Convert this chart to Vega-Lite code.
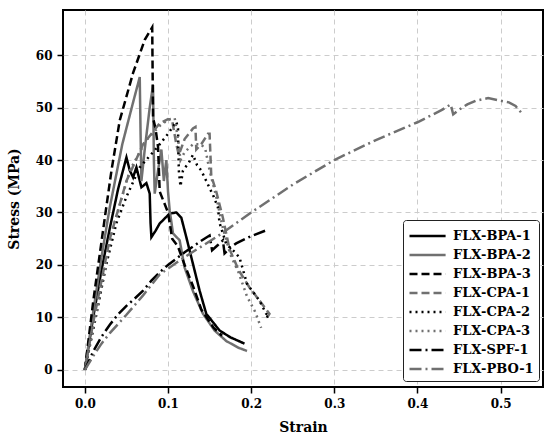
{
  "$schema": "https://vega.github.io/schema/vega-lite/v6.json",
  "width": 480,
  "height": 377,
  "autosize": "none",
  "padding": {"left": 63, "top": 10, "right": 7, "bottom": 56},
  "config": {
    "view": {"stroke": "black", "strokeWidth": 2},
    "font": "DejaVu Serif",
    "axis": {
      "labelFont": "DejaVu Serif", "labelFontWeight": "bold", "labelFontSize": 12, "labelColor": "black",
      "titleFont": "DejaVu Serif", "titleFontWeight": "bold", "titleFontSize": 14, "titleColor": "black",
      "tickColor": "black", "tickWidth": 1.5, "tickSize": 6, "domain": false,
      "gridColor": "#cccccc", "gridDash": [5, 4], "gridWidth": 1
    }
  },
  "data": {
    "values": [
      {"s": "FLX-BPA-1", "i": 0, "x": 0, "y": 0},
      {"s": "FLX-BPA-1", "i": 1, "x": 0.01, "y": 10},
      {"s": "FLX-BPA-1", "i": 2, "x": 0.02, "y": 19},
      {"s": "FLX-BPA-1", "i": 3, "x": 0.03, "y": 27},
      {"s": "FLX-BPA-1", "i": 4, "x": 0.04, "y": 34.5},
      {"s": "FLX-BPA-1", "i": 5, "x": 0.05, "y": 40.5},
      {"s": "FLX-BPA-1", "i": 6, "x": 0.054, "y": 38},
      {"s": "FLX-BPA-1", "i": 7, "x": 0.058, "y": 36.7},
      {"s": "FLX-BPA-1", "i": 8, "x": 0.062, "y": 38.6},
      {"s": "FLX-BPA-1", "i": 9, "x": 0.068, "y": 34.8},
      {"s": "FLX-BPA-1", "i": 10, "x": 0.074, "y": 35.6},
      {"s": "FLX-BPA-1", "i": 11, "x": 0.078, "y": 33.6},
      {"s": "FLX-BPA-1", "i": 12, "x": 0.079, "y": 28},
      {"s": "FLX-BPA-1", "i": 13, "x": 0.08, "y": 25.3},
      {"s": "FLX-BPA-1", "i": 14, "x": 0.085, "y": 26.5},
      {"s": "FLX-BPA-1", "i": 15, "x": 0.09, "y": 27.9},
      {"s": "FLX-BPA-1", "i": 16, "x": 0.102, "y": 29.8},
      {"s": "FLX-BPA-1", "i": 17, "x": 0.11, "y": 30},
      {"s": "FLX-BPA-1", "i": 18, "x": 0.116, "y": 29},
      {"s": "FLX-BPA-1", "i": 19, "x": 0.122, "y": 25.3},
      {"s": "FLX-BPA-1", "i": 20, "x": 0.13, "y": 20.2},
      {"s": "FLX-BPA-1", "i": 21, "x": 0.138, "y": 15.1},
      {"s": "FLX-BPA-1", "i": 22, "x": 0.146, "y": 10.7},
      {"s": "FLX-BPA-1", "i": 23, "x": 0.162, "y": 7.5},
      {"s": "FLX-BPA-1", "i": 24, "x": 0.175, "y": 6.2},
      {"s": "FLX-BPA-1", "i": 25, "x": 0.192, "y": 5},

      {"s": "FLX-BPA-2", "i": 0, "x": 0, "y": 0},
      {"s": "FLX-BPA-2", "i": 1, "x": 0.01, "y": 11},
      {"s": "FLX-BPA-2", "i": 2, "x": 0.02, "y": 21.5},
      {"s": "FLX-BPA-2", "i": 3, "x": 0.03, "y": 31},
      {"s": "FLX-BPA-2", "i": 4, "x": 0.045, "y": 43},
      {"s": "FLX-BPA-2", "i": 5, "x": 0.058, "y": 51},
      {"s": "FLX-BPA-2", "i": 6, "x": 0.066, "y": 55.8},
      {"s": "FLX-BPA-2", "i": 7, "x": 0.067, "y": 45},
      {"s": "FLX-BPA-2", "i": 8, "x": 0.068, "y": 36},
      {"s": "FLX-BPA-2", "i": 9, "x": 0.072, "y": 42},
      {"s": "FLX-BPA-2", "i": 10, "x": 0.078, "y": 50},
      {"s": "FLX-BPA-2", "i": 11, "x": 0.082, "y": 54.3},
      {"s": "FLX-BPA-2", "i": 12, "x": 0.083, "y": 40},
      {"s": "FLX-BPA-2", "i": 13, "x": 0.084, "y": 33.6},
      {"s": "FLX-BPA-2", "i": 14, "x": 0.088, "y": 38},
      {"s": "FLX-BPA-2", "i": 15, "x": 0.092, "y": 42},
      {"s": "FLX-BPA-2", "i": 16, "x": 0.095, "y": 36},
      {"s": "FLX-BPA-2", "i": 17, "x": 0.098, "y": 40},
      {"s": "FLX-BPA-2", "i": 18, "x": 0.1, "y": 34},
      {"s": "FLX-BPA-2", "i": 19, "x": 0.102, "y": 30.4},
      {"s": "FLX-BPA-2", "i": 20, "x": 0.106, "y": 26},
      {"s": "FLX-BPA-2", "i": 21, "x": 0.114, "y": 24.7},
      {"s": "FLX-BPA-2", "i": 22, "x": 0.12, "y": 19.5},
      {"s": "FLX-BPA-2", "i": 23, "x": 0.13, "y": 15},
      {"s": "FLX-BPA-2", "i": 24, "x": 0.142, "y": 10.7},
      {"s": "FLX-BPA-2", "i": 25, "x": 0.156, "y": 7.5},
      {"s": "FLX-BPA-2", "i": 26, "x": 0.17, "y": 5.5},
      {"s": "FLX-BPA-2", "i": 27, "x": 0.185, "y": 4.2},
      {"s": "FLX-BPA-2", "i": 28, "x": 0.195, "y": 3.6},

      {"s": "FLX-BPA-3", "i": 0, "x": 0, "y": 0},
      {"s": "FLX-BPA-3", "i": 1, "x": 0.01, "y": 13},
      {"s": "FLX-BPA-3", "i": 2, "x": 0.024, "y": 29},
      {"s": "FLX-BPA-3", "i": 3, "x": 0.032, "y": 38},
      {"s": "FLX-BPA-3", "i": 4, "x": 0.042, "y": 47.6},
      {"s": "FLX-BPA-3", "i": 5, "x": 0.058, "y": 56.6},
      {"s": "FLX-BPA-3", "i": 6, "x": 0.072, "y": 62.9},
      {"s": "FLX-BPA-3", "i": 7, "x": 0.081, "y": 65.3},
      {"s": "FLX-BPA-3", "i": 8, "x": 0.082, "y": 48},
      {"s": "FLX-BPA-3", "i": 9, "x": 0.085, "y": 46},
      {"s": "FLX-BPA-3", "i": 10, "x": 0.088, "y": 42.5},
      {"s": "FLX-BPA-3", "i": 11, "x": 0.09, "y": 34},
      {"s": "FLX-BPA-3", "i": 12, "x": 0.1, "y": 30},
      {"s": "FLX-BPA-3", "i": 13, "x": 0.105, "y": 25},
      {"s": "FLX-BPA-3", "i": 14, "x": 0.112, "y": 23.5},
      {"s": "FLX-BPA-3", "i": 15, "x": 0.12, "y": 20},
      {"s": "FLX-BPA-3", "i": 16, "x": 0.13, "y": 16},
      {"s": "FLX-BPA-3", "i": 17, "x": 0.14, "y": 11.5},
      {"s": "FLX-BPA-3", "i": 18, "x": 0.155, "y": 8},
      {"s": "FLX-BPA-3", "i": 19, "x": 0.165, "y": 6.5},

      {"s": "FLX-CPA-1", "i": 0, "x": 0, "y": 0},
      {"s": "FLX-CPA-1", "i": 1, "x": 0.01, "y": 9},
      {"s": "FLX-CPA-1", "i": 2, "x": 0.03, "y": 25},
      {"s": "FLX-CPA-1", "i": 3, "x": 0.05, "y": 36},
      {"s": "FLX-CPA-1", "i": 4, "x": 0.07, "y": 43},
      {"s": "FLX-CPA-1", "i": 5, "x": 0.09, "y": 47},
      {"s": "FLX-CPA-1", "i": 6, "x": 0.1, "y": 47.8},
      {"s": "FLX-CPA-1", "i": 7, "x": 0.105, "y": 47.5},
      {"s": "FLX-CPA-1", "i": 8, "x": 0.11, "y": 43},
      {"s": "FLX-CPA-1", "i": 9, "x": 0.113, "y": 41},
      {"s": "FLX-CPA-1", "i": 10, "x": 0.12, "y": 44},
      {"s": "FLX-CPA-1", "i": 11, "x": 0.13, "y": 46},
      {"s": "FLX-CPA-1", "i": 12, "x": 0.133, "y": 46.3},
      {"s": "FLX-CPA-1", "i": 13, "x": 0.134, "y": 42},
      {"s": "FLX-CPA-1", "i": 14, "x": 0.14, "y": 43},
      {"s": "FLX-CPA-1", "i": 15, "x": 0.148, "y": 45},
      {"s": "FLX-CPA-1", "i": 16, "x": 0.15, "y": 45},
      {"s": "FLX-CPA-1", "i": 17, "x": 0.152, "y": 37},
      {"s": "FLX-CPA-1", "i": 18, "x": 0.158, "y": 34},
      {"s": "FLX-CPA-1", "i": 19, "x": 0.166, "y": 29},
      {"s": "FLX-CPA-1", "i": 20, "x": 0.174, "y": 23},
      {"s": "FLX-CPA-1", "i": 21, "x": 0.185, "y": 19},
      {"s": "FLX-CPA-1", "i": 22, "x": 0.198, "y": 15.7},
      {"s": "FLX-CPA-1", "i": 23, "x": 0.21, "y": 13.2},
      {"s": "FLX-CPA-1", "i": 24, "x": 0.222, "y": 10.7},
      {"s": "FLX-CPA-1", "i": 25, "x": 0.218, "y": 9.7},

      {"s": "FLX-CPA-2", "i": 0, "x": 0, "y": 0},
      {"s": "FLX-CPA-2", "i": 1, "x": 0.014, "y": 10.7},
      {"s": "FLX-CPA-2", "i": 2, "x": 0.026, "y": 20.3},
      {"s": "FLX-CPA-2", "i": 3, "x": 0.038, "y": 28},
      {"s": "FLX-CPA-2", "i": 4, "x": 0.05, "y": 33},
      {"s": "FLX-CPA-2", "i": 5, "x": 0.066, "y": 38.6},
      {"s": "FLX-CPA-2", "i": 6, "x": 0.087, "y": 42.4},
      {"s": "FLX-CPA-2", "i": 7, "x": 0.1, "y": 45},
      {"s": "FLX-CPA-2", "i": 8, "x": 0.11, "y": 47.3},
      {"s": "FLX-CPA-2", "i": 9, "x": 0.112, "y": 46},
      {"s": "FLX-CPA-2", "i": 10, "x": 0.113, "y": 38},
      {"s": "FLX-CPA-2", "i": 11, "x": 0.115, "y": 35},
      {"s": "FLX-CPA-2", "i": 12, "x": 0.118, "y": 38},
      {"s": "FLX-CPA-2", "i": 13, "x": 0.125, "y": 39.5},
      {"s": "FLX-CPA-2", "i": 14, "x": 0.13, "y": 41},
      {"s": "FLX-CPA-2", "i": 15, "x": 0.135, "y": 39},
      {"s": "FLX-CPA-2", "i": 16, "x": 0.14, "y": 38},
      {"s": "FLX-CPA-2", "i": 17, "x": 0.146, "y": 36},
      {"s": "FLX-CPA-2", "i": 18, "x": 0.155, "y": 33},
      {"s": "FLX-CPA-2", "i": 19, "x": 0.16, "y": 31},
      {"s": "FLX-CPA-2", "i": 20, "x": 0.162, "y": 28},
      {"s": "FLX-CPA-2", "i": 21, "x": 0.17, "y": 24},
      {"s": "FLX-CPA-2", "i": 22, "x": 0.18, "y": 22.5},
      {"s": "FLX-CPA-2", "i": 23, "x": 0.186, "y": 21.4},
      {"s": "FLX-CPA-2", "i": 24, "x": 0.195, "y": 16.4},
      {"s": "FLX-CPA-2", "i": 25, "x": 0.21, "y": 13.2},
      {"s": "FLX-CPA-2", "i": 26, "x": 0.218, "y": 10.7},
      {"s": "FLX-CPA-2", "i": 27, "x": 0.222, "y": 10.3},
      {"s": "FLX-CPA-2", "i": 28, "x": 0.215, "y": 9.8},

      {"s": "FLX-CPA-3", "i": 0, "x": 0, "y": 0},
      {"s": "FLX-CPA-3", "i": 1, "x": 0.01, "y": 8},
      {"s": "FLX-CPA-3", "i": 2, "x": 0.02, "y": 16},
      {"s": "FLX-CPA-3", "i": 3, "x": 0.032, "y": 26},
      {"s": "FLX-CPA-3", "i": 4, "x": 0.054, "y": 38},
      {"s": "FLX-CPA-3", "i": 5, "x": 0.074, "y": 43.8},
      {"s": "FLX-CPA-3", "i": 6, "x": 0.09, "y": 46.5},
      {"s": "FLX-CPA-3", "i": 7, "x": 0.1, "y": 47.7},
      {"s": "FLX-CPA-3", "i": 8, "x": 0.108, "y": 48},
      {"s": "FLX-CPA-3", "i": 9, "x": 0.112, "y": 44},
      {"s": "FLX-CPA-3", "i": 10, "x": 0.115, "y": 40},
      {"s": "FLX-CPA-3", "i": 11, "x": 0.12, "y": 41.5},
      {"s": "FLX-CPA-3", "i": 12, "x": 0.13, "y": 43},
      {"s": "FLX-CPA-3", "i": 13, "x": 0.14, "y": 43},
      {"s": "FLX-CPA-3", "i": 14, "x": 0.145, "y": 42},
      {"s": "FLX-CPA-3", "i": 15, "x": 0.15, "y": 38},
      {"s": "FLX-CPA-3", "i": 16, "x": 0.158, "y": 33},
      {"s": "FLX-CPA-3", "i": 17, "x": 0.166, "y": 27},
      {"s": "FLX-CPA-3", "i": 18, "x": 0.175, "y": 22},
      {"s": "FLX-CPA-3", "i": 19, "x": 0.185, "y": 18.5},
      {"s": "FLX-CPA-3", "i": 20, "x": 0.195, "y": 14},
      {"s": "FLX-CPA-3", "i": 21, "x": 0.205, "y": 11},
      {"s": "FLX-CPA-3", "i": 22, "x": 0.212, "y": 8},

      {"s": "FLX-SPF-1", "i": 0, "x": 0, "y": 0},
      {"s": "FLX-SPF-1", "i": 1, "x": 0.01, "y": 3.5},
      {"s": "FLX-SPF-1", "i": 2, "x": 0.02, "y": 6.3},
      {"s": "FLX-SPF-1", "i": 3, "x": 0.03, "y": 8.6},
      {"s": "FLX-SPF-1", "i": 4, "x": 0.04, "y": 10.6},
      {"s": "FLX-SPF-1", "i": 5, "x": 0.05, "y": 12.2},
      {"s": "FLX-SPF-1", "i": 6, "x": 0.06, "y": 13.6},
      {"s": "FLX-SPF-1", "i": 7, "x": 0.07, "y": 15.1},
      {"s": "FLX-SPF-1", "i": 8, "x": 0.08, "y": 17},
      {"s": "FLX-SPF-1", "i": 9, "x": 0.09, "y": 18.6},
      {"s": "FLX-SPF-1", "i": 10, "x": 0.1, "y": 20},
      {"s": "FLX-SPF-1", "i": 11, "x": 0.12, "y": 22.4},
      {"s": "FLX-SPF-1", "i": 12, "x": 0.14, "y": 24.6},
      {"s": "FLX-SPF-1", "i": 13, "x": 0.15, "y": 25.6},
      {"s": "FLX-SPF-1", "i": 14, "x": 0.153, "y": 22.8},
      {"s": "FLX-SPF-1", "i": 15, "x": 0.16, "y": 23.8},
      {"s": "FLX-SPF-1", "i": 16, "x": 0.166, "y": 24.7},
      {"s": "FLX-SPF-1", "i": 17, "x": 0.168, "y": 22.2},
      {"s": "FLX-SPF-1", "i": 18, "x": 0.175, "y": 23.3},
      {"s": "FLX-SPF-1", "i": 19, "x": 0.182, "y": 24.1},
      {"s": "FLX-SPF-1", "i": 20, "x": 0.2, "y": 25.5},
      {"s": "FLX-SPF-1", "i": 21, "x": 0.218, "y": 26.6},

      {"s": "FLX-PBO-1", "i": 0, "x": 0, "y": 0},
      {"s": "FLX-PBO-1", "i": 1, "x": 0.01, "y": 2.6},
      {"s": "FLX-PBO-1", "i": 2, "x": 0.02, "y": 5},
      {"s": "FLX-PBO-1", "i": 3, "x": 0.03, "y": 7},
      {"s": "FLX-PBO-1", "i": 4, "x": 0.05, "y": 10.5},
      {"s": "FLX-PBO-1", "i": 5, "x": 0.07, "y": 14.2},
      {"s": "FLX-PBO-1", "i": 6, "x": 0.09, "y": 18.2},
      {"s": "FLX-PBO-1", "i": 7, "x": 0.12, "y": 21.5},
      {"s": "FLX-PBO-1", "i": 8, "x": 0.16, "y": 25.5},
      {"s": "FLX-PBO-1", "i": 9, "x": 0.2, "y": 30},
      {"s": "FLX-PBO-1", "i": 10, "x": 0.25, "y": 35.3},
      {"s": "FLX-PBO-1", "i": 11, "x": 0.3, "y": 40},
      {"s": "FLX-PBO-1", "i": 12, "x": 0.35, "y": 43.8},
      {"s": "FLX-PBO-1", "i": 13, "x": 0.4, "y": 47.2},
      {"s": "FLX-PBO-1", "i": 14, "x": 0.43, "y": 49.6},
      {"s": "FLX-PBO-1", "i": 15, "x": 0.44, "y": 50.6},
      {"s": "FLX-PBO-1", "i": 16, "x": 0.443, "y": 48.7},
      {"s": "FLX-PBO-1", "i": 17, "x": 0.45, "y": 49.6},
      {"s": "FLX-PBO-1", "i": 18, "x": 0.46, "y": 50.6},
      {"s": "FLX-PBO-1", "i": 19, "x": 0.47, "y": 51.3},
      {"s": "FLX-PBO-1", "i": 20, "x": 0.485, "y": 51.8},
      {"s": "FLX-PBO-1", "i": 21, "x": 0.5, "y": 51.3},
      {"s": "FLX-PBO-1", "i": 22, "x": 0.51, "y": 51},
      {"s": "FLX-PBO-1", "i": 23, "x": 0.518, "y": 50.3},
      {"s": "FLX-PBO-1", "i": 24, "x": 0.525, "y": 49}
    ]
  },
  "mark": {"type": "line", "strokeWidth": 2.5, "clip": true},
  "encoding": {
    "x": {
      "field": "x", "type": "quantitative", "title": "Strain",
      "scale": {"domain": [-0.0263, 0.551], "nice": false, "zero": false},
      "axis": {"values": [0, 0.1, 0.2, 0.3, 0.4, 0.5], "format": ".1f", "labelPadding": 5, "titlePadding": 11}
    },
    "y": {
      "field": "y", "type": "quantitative", "title": "Stress (MPa)",
      "scale": {"domain": [-3.27, 68.6], "nice": false, "zero": false},
      "axis": {"values": [0, 10, 20, 30, 40, 50, 60], "labelPadding": 5, "titlePadding": 14}
    },
    "order": {"field": "i", "type": "quantitative"},
    "color": {
      "field": "s", "type": "nominal", "title": null,
      "scale": {
        "domain": ["FLX-BPA-1", "FLX-BPA-2", "FLX-BPA-3", "FLX-CPA-1", "FLX-CPA-2", "FLX-CPA-3", "FLX-SPF-1", "FLX-PBO-1"],
        "range": ["#000000", "#707070", "#000000", "#707070", "#000000", "#707070", "#000000", "#707070"]
      },
      "legend": {
        "orient": "none", "legendX": 340, "legendY": 210,
        "symbolType": "M-1,0H2.8", "symbolSize": 361, "symbolStrokeWidth": 2.5,
        "labelOffset": 23,
        "labelFont": "DejaVu Serif", "labelFontWeight": "bold", "labelFontSize": 13, "labelColor": "black",
        "rowPadding": 1, "padding": 5, "fillColor": "white", "strokeColor": "#222222", "cornerRadius": 3
      }
    },
    "strokeDash": {
      "field": "s", "type": "nominal", "title": null,
      "scale": {
        "domain": ["FLX-BPA-1", "FLX-BPA-2", "FLX-BPA-3", "FLX-CPA-1", "FLX-CPA-2", "FLX-CPA-3", "FLX-SPF-1", "FLX-PBO-1"],
        "range": [[1, 0], [1, 0], [8, 4], [8, 4], [2, 4], [2, 4], [12, 4, 2, 4], [12, 4, 2, 4]]
      }
    }
  }
}
